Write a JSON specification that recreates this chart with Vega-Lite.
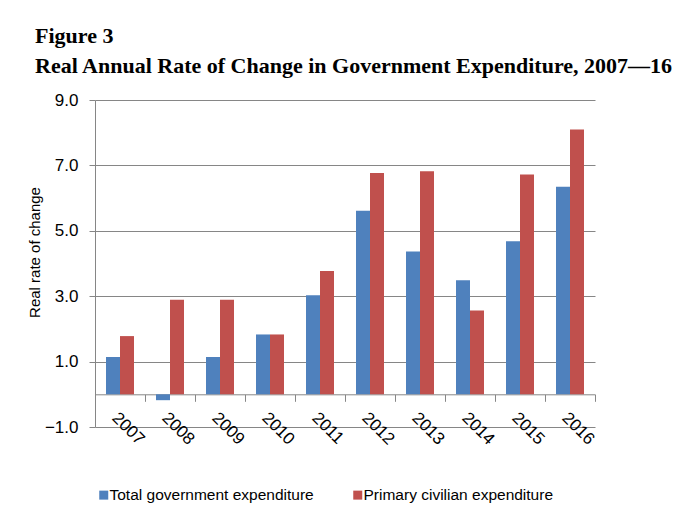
{
  "$schema": "https://vega.github.io/schema/vega-lite/v6.json",
  "autosize": "none",
  "width": 500,
  "height": 327,
  "padding": {"left": 95, "top": 100, "right": 104, "bottom": 90},
  "background": "white",
  "title": {
    "text": ["Figure 3", "Real Annual Rate of Change in Government Expenditure, 2007\u201416"],
    "anchor": "start",
    "frame": "group",
    "dx": -60,
    "offset": 13,
    "font": "Liberation Serif",
    "fontSize": 22,
    "fontWeight": "bold",
    "color": "black",
    "lineHeight": 30
  },
  "data": {
    "values": [
      {"year": "2007", "series": "Total government expenditure", "value": 1.14},
      {"year": "2007", "series": "Primary civilian expenditure", "value": 1.78},
      {"year": "2008", "series": "Total government expenditure", "value": -0.18},
      {"year": "2008", "series": "Primary civilian expenditure", "value": 2.89},
      {"year": "2009", "series": "Total government expenditure", "value": 1.14},
      {"year": "2009", "series": "Primary civilian expenditure", "value": 2.89},
      {"year": "2010", "series": "Total government expenditure", "value": 1.83},
      {"year": "2010", "series": "Primary civilian expenditure", "value": 1.83},
      {"year": "2011", "series": "Total government expenditure", "value": 3.03},
      {"year": "2011", "series": "Primary civilian expenditure", "value": 3.77},
      {"year": "2012", "series": "Total government expenditure", "value": 5.61},
      {"year": "2012", "series": "Primary civilian expenditure", "value": 6.77},
      {"year": "2013", "series": "Total government expenditure", "value": 4.37},
      {"year": "2013", "series": "Primary civilian expenditure", "value": 6.82},
      {"year": "2014", "series": "Total government expenditure", "value": 3.49},
      {"year": "2014", "series": "Primary civilian expenditure", "value": 2.56},
      {"year": "2015", "series": "Total government expenditure", "value": 4.68},
      {"year": "2015", "series": "Primary civilian expenditure", "value": 6.72},
      {"year": "2016", "series": "Total government expenditure", "value": 6.35},
      {"year": "2016", "series": "Primary civilian expenditure", "value": 8.1}
    ]
  },
  "mark": {"type": "bar"},
  "encoding": {
    "x": {
      "field": "year",
      "type": "ordinal",
      "scale": {"paddingInner": 0, "paddingOuter": 0},
      "axis": {
        "title": null,
        "labelAngle": 45,
        "tickBand": "extent",
        "offset": -32.7,
        "domainColor": "#868686",
        "tickColor": "#868686",
        "tickSize": 7,
        "labelFont": "Liberation Sans",
        "labelFontSize": 17,
        "labelColor": "black",
        "labelPadding": 8,
        "labelBound": false,
        "grid": false
      }
    },
    "xOffset": {
      "field": "series",
      "type": "nominal",
      "sort": ["Total government expenditure", "Primary civilian expenditure"],
      "scale": {"paddingInner": 0, "paddingOuter": 0.786}
    },
    "y": {
      "field": "value",
      "type": "quantitative",
      "scale": {"domain": [-1, 9], "nice": false, "zero": false},
      "axis": {
        "values": [-1, 1, 3, 5, 7, 9],
        "format": ".1f",
        "grid": true,
        "gridColor": "#868686",
        "domainColor": "#868686",
        "tickColor": "#868686",
        "tickSize": 6,
        "labelFont": "Liberation Sans",
        "labelFontSize": 17,
        "labelColor": "black",
        "labelPadding": 11,
        "title": "Real rate of change",
        "titleFont": "Liberation Sans",
        "titleFontSize": 15,
        "titleFontWeight": "normal",
        "titleColor": "black",
        "titlePadding": 2,
        "titleY": 152
      }
    },
    "color": {
      "field": "series",
      "type": "nominal",
      "sort": ["Total government expenditure", "Primary civilian expenditure"],
      "scale": {"range": ["#4F81BD", "#C0504D"]},
      "legend": {
        "title": null,
        "orient": "none",
        "direction": "horizontal",
        "legendX": 1,
        "legendY": 387,
        "padding": 0,
        "symbolType": "square",
        "symbolSize": 81,
        "symbolStrokeWidth": 0,
        "symbolOffset": 0,
        "labelFont": "Liberation Sans",
        "labelFontSize": 15.5,
        "labelColor": "black",
        "labelOffset": -2,
        "labelLimit": 0,
        "columnPadding": 36
      }
    }
  },
  "config": {
    "view": {"stroke": null}
  }
}
